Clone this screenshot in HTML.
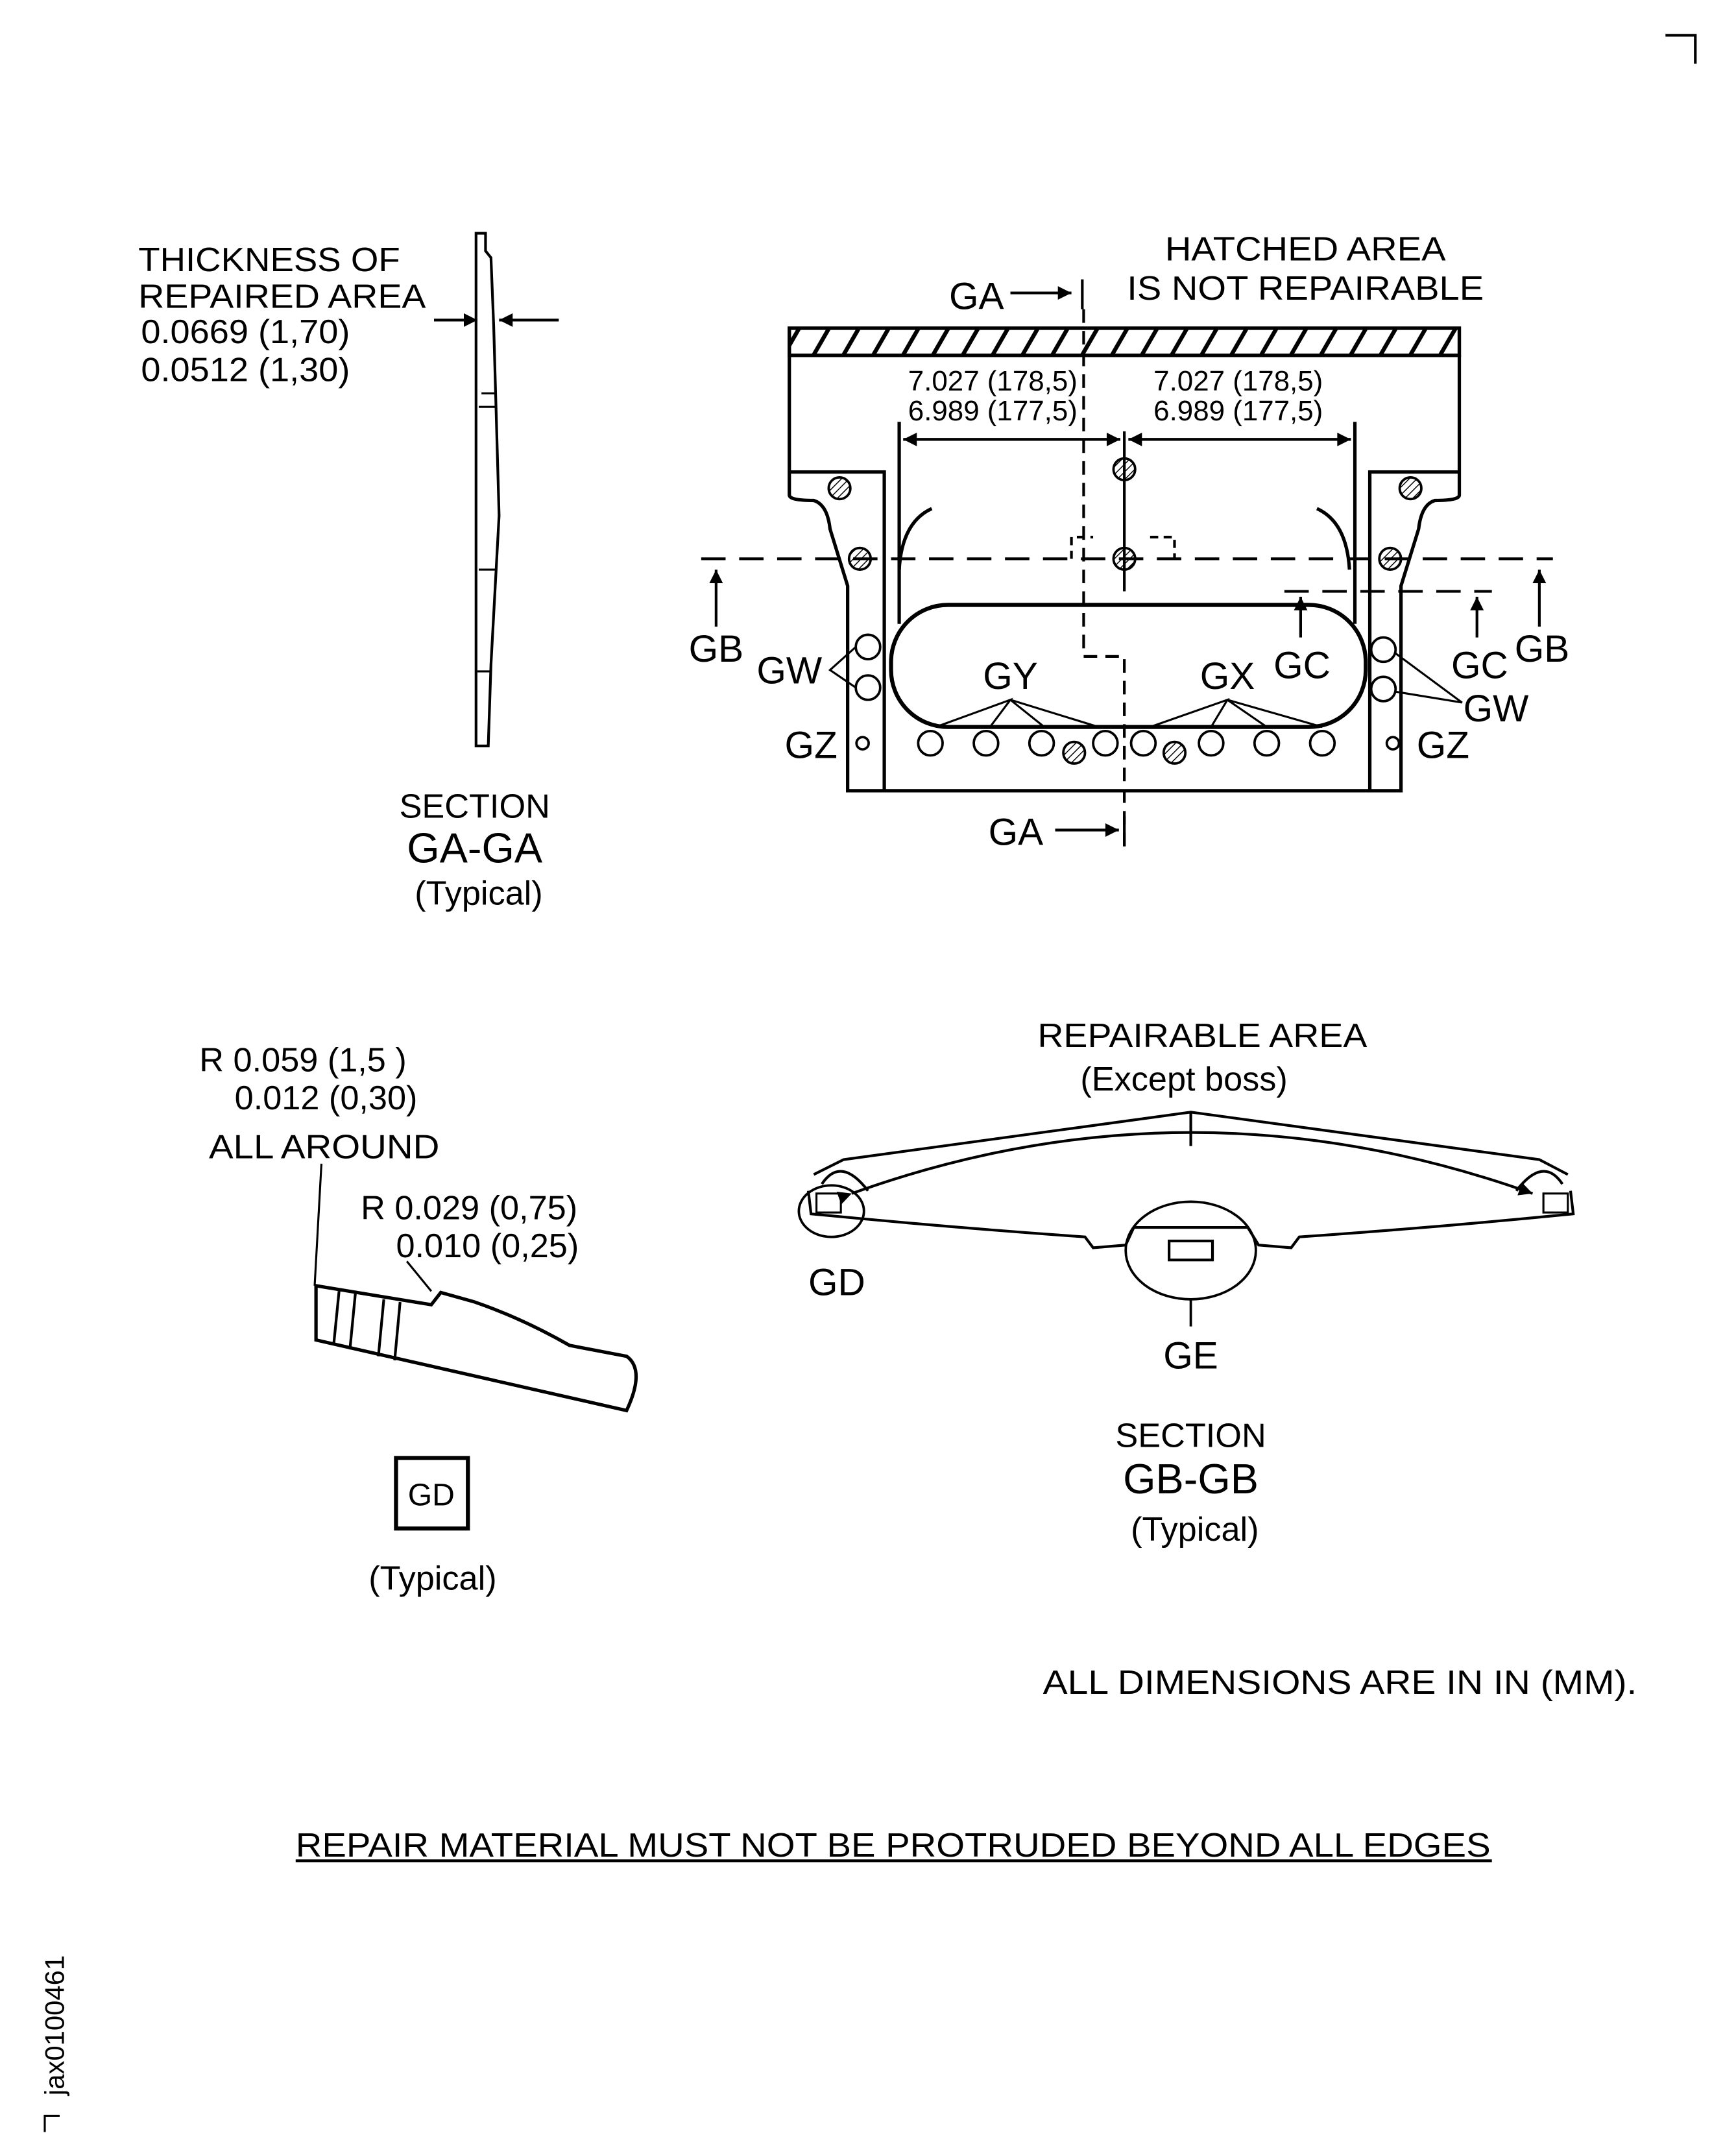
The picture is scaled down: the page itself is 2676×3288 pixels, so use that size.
<!DOCTYPE html>
<html><head><meta charset="utf-8"><style>
html,body{margin:0;padding:0;background:#fff;}
svg{display:block;}
text{font-family:"Liberation Sans",sans-serif;fill:#000;}
</style></head><body>
<svg width="2676" height="3288" viewBox="0 0 1280 1572.7" preserveAspectRatio="none" xmlns="http://www.w3.org/2000/svg">
<defs>
<pattern id="h" width="22" height="20" patternUnits="userSpaceOnUse" patternTransform="skewX(-30)"><line x1="3" y1="0" x2="3" y2="20" stroke="#000" stroke-width="3.5"/></pattern>
<pattern id="hb" width="4" height="4" patternUnits="userSpaceOnUse" patternTransform="rotate(45)"><line x1="0" y1="0" x2="0" y2="4" stroke="#000" stroke-width="1.4"/></pattern>
<marker id="ab" viewBox="0 0 10 10" refX="10" refY="5" markerWidth="14" markerHeight="10" markerUnits="userSpaceOnUse" orient="auto"><path d="M0,0L10,5L0,10Z" fill="#000"/></marker>
</defs>
<g fill="none" stroke="#000" stroke-width="2.5">
<polyline points="1228,26 1250,26 1250,47" stroke-width="2"/>
<polyline points="44,1560 33,1560 33,1572" stroke-width="1.5"/>

<rect x="582" y="242" width="494" height="20" fill="url(#h)"/>
<rect x="582" y="242" width="494" height="20"/>
<path d="M582,262 V365 Q582,369 600,369 Q610,372 612,390 L625,432 V583 H1033 V432 L1046,390 Q1048,372 1058,369 Q1076,369 1076,365 V262"/>
<polyline points="582,348 652,348 652,583"/>
<polyline points="1076,348 1010,348 1010,583"/>
<line x1="663" y1="311" x2="663" y2="460"/>
<line x1="999" y1="311" x2="999" y2="460"/>
<rect x="657" y="446" width="350" height="90" rx="42" ry="42" stroke-width="3"/>
<path d="M687,375 Q665,385 663,420"/>
<path d="M971,375 Q993,385 995,420"/>
<line x1="829" y1="318" x2="829" y2="436" stroke-width="2"/>
<line x1="826" y1="324" x2="666" y2="324" stroke-width="2" marker-end="url(#ab)"/>
<line x1="666" y1="324" x2="826" y2="324" stroke-width="2" marker-end="url(#ab)"/>
<line x1="832" y1="324" x2="996" y2="324" stroke-width="2" marker-end="url(#ab)"/>
<line x1="996" y1="324" x2="832" y2="324" stroke-width="2" marker-end="url(#ab)"/>
<polyline points="799,228 799,484 829,484 829,625" stroke-width="2" stroke-dasharray="10,6"/>
<line x1="517" y1="412" x2="1145" y2="412" stroke-width="2" stroke-dasharray="18,10"/>
<line x1="947" y1="436" x2="1100" y2="436" stroke-width="2" stroke-dasharray="18,10"/>
<polyline points="790,412 790,396 806,396" stroke-width="2" stroke-dasharray="6,4"/>
<polyline points="848,396 866,396 866,412" stroke-width="2" stroke-dasharray="6,4"/>
<g stroke-width="1.8">
<circle cx="640" cy="477" r="9"/><circle cx="640" cy="507" r="9"/>
<circle cx="1020" cy="479" r="9"/><circle cx="1020" cy="508" r="9"/>
<circle cx="636" cy="548" r="4.5"/><circle cx="1027" cy="548" r="4.5"/>
<circle cx="686" cy="548" r="9"/><circle cx="727" cy="548" r="9"/><circle cx="768" cy="548" r="9"/><circle cx="815" cy="548" r="9"/>
<circle cx="843" cy="548" r="9"/><circle cx="893" cy="548" r="9"/><circle cx="934" cy="548" r="9"/><circle cx="975" cy="548" r="9"/>
</g>
<g stroke-width="1.8" fill="url(#hb)">
<circle cx="829" cy="346" r="8"/><circle cx="829" cy="412" r="8"/>
<circle cx="619" cy="360" r="8"/><circle cx="634" cy="412" r="8"/>
<circle cx="1040" cy="360" r="8"/><circle cx="1025" cy="412" r="8"/>
<circle cx="792" cy="555" r="8"/><circle cx="866" cy="555" r="8"/>
</g>
<g stroke-width="1.5">
<polyline points="690,536 745,516 730,536"/><polyline points="770,536 745,516 810,536"/>
<polyline points="848,536 905,516 893,536"/><polyline points="934,536 905,516 975,536"/>
<polyline points="631,477 612,494 631,507"/>
<polyline points="1028,481 1078,518 1029,510"/>
</g>
<g stroke-width="2">
<line x1="528" y1="462" x2="528" y2="420" marker-end="url(#ab)"/>
<line x1="1135" y1="462" x2="1135" y2="420" marker-end="url(#ab)"/>
<line x1="959" y1="470" x2="959" y2="440" marker-end="url(#ab)"/>
<line x1="1089" y1="470" x2="1089" y2="440" marker-end="url(#ab)"/>
<line x1="745" y1="216" x2="790" y2="216" marker-end="url(#ab)"/>
<line x1="798" y1="206" x2="798" y2="228"/>
<line x1="778" y1="612" x2="825" y2="612" marker-end="url(#ab)"/>
<line x1="829" y1="602" x2="829" y2="624"/>
</g>

<path d="M351,172 H358 V185 L362,190 L364,240 L368,380 L362,490 L360,550 H351 Z" stroke-width="2"/>
<line x1="355" y1="290" x2="365" y2="290" stroke-width="1.5"/>
<line x1="353" y1="300" x2="366" y2="300" stroke-width="1.5"/>
<line x1="353" y1="420" x2="366" y2="420" stroke-width="1.5"/>
<line x1="352" y1="495" x2="361" y2="495" stroke-width="1.5"/>
<line x1="320" y1="236" x2="352" y2="236" stroke-width="2" marker-end="url(#ab)"/>
<line x1="412" y1="236" x2="368" y2="236" stroke-width="2" marker-end="url(#ab)"/>

<path d="M233,948 L318,962 L325,953 L350,960 Q385,972 420,992 L462,1000 Q476,1010 462,1040 L233,988 Z" stroke-width="2.5"/>
<line x1="250" y1="952" x2="246" y2="992" stroke-width="2"/>
<line x1="262" y1="954" x2="258" y2="995" stroke-width="2"/>
<line x1="283" y1="958" x2="279" y2="1000" stroke-width="2"/>
<line x1="295" y1="960" x2="291" y2="1003" stroke-width="2"/>
<polyline points="237,858 232,948" stroke-width="1.5"/>
<polyline points="300,930 318,952" stroke-width="1.5"/>
<rect x="292" y="1075" width="53" height="52" stroke-width="3"/>

<polyline points="600,866 622,855 878,820 1135,855 1156,866" stroke-width="2"/>
<line x1="878" y1="820" x2="878" y2="845" stroke-width="2"/>
<path d="M606,873 Q620,852 640,878" stroke-width="2"/>
<path d="M1152,873 Q1138,852 1118,878" stroke-width="2"/>
<path d="M628,880 Q878,790 1130,880" stroke-width="2" marker-start="url(#ab)" marker-end="url(#ab)"/>
<path d="M596,878 L598,895 Q700,905 800,912 L806,920 L830,918 L836,905 L920,905 L928,918 L952,920 L958,912 Q1060,905 1160,895 L1158,878" stroke-width="2"/>
<rect x="862" y="915" width="32" height="14" stroke-width="2"/>
<rect x="602" y="880" width="18" height="14" stroke-width="1.5"/>
<rect x="1138" y="880" width="18" height="14" stroke-width="1.5"/>
<ellipse cx="613" cy="893" rx="24" ry="19" stroke-width="1.8"/>
<ellipse cx="878" cy="922" rx="48" ry="36" stroke-width="1.8"/>
<line x1="878" y1="958" x2="878" y2="978" stroke-width="1.8"/>
<line x1="218" y1="1372" x2="1100" y2="1372" stroke-width="2"/>
</g>

<g font-size="25">
<text x="859" y="192" textLength="207" lengthAdjust="spacingAndGlyphs">HATCHED AREA</text>
<text x="831" y="221" textLength="263" lengthAdjust="spacingAndGlyphs">IS NOT REPAIRABLE</text>
<text x="720" y="228" text-anchor="middle" font-size="28">GA</text>
<text x="749" y="623" text-anchor="middle" font-size="28">GA</text>
<g font-size="21">
<text x="732" y="288" text-anchor="middle">7.027 (178,5)</text>
<text x="732" y="310" text-anchor="middle">6.989 (177,5)</text>
<text x="913" y="288" text-anchor="middle">7.027 (178,5)</text>
<text x="913" y="310" text-anchor="middle">6.989 (177,5)</text>
</g>
<g font-size="28">
<text x="528" y="488" text-anchor="middle">GB</text>
<text x="1137" y="488" text-anchor="middle">GB</text>
<text x="582" y="504" text-anchor="middle">GW</text>
<text x="1103" y="532" text-anchor="middle">GW</text>
<text x="745" y="508" text-anchor="middle">GY</text>
<text x="905" y="508" text-anchor="middle">GX</text>
<text x="960" y="500" text-anchor="middle">GC</text>
<text x="1091" y="500" text-anchor="middle">GC</text>
<text x="598" y="559" text-anchor="middle">GZ</text>
<text x="1064" y="559" text-anchor="middle">GZ</text>
</g>
<text x="102" y="200" textLength="193" lengthAdjust="spacingAndGlyphs">THICKNESS OF</text>
<text x="102" y="227" textLength="212" lengthAdjust="spacingAndGlyphs">REPAIRED AREA</text>
<text x="104" y="253" textLength="154" lengthAdjust="spacingAndGlyphs">0.0669 (1,70)</text>
<text x="104" y="281" textLength="154" lengthAdjust="spacingAndGlyphs">0.0512 (1,30)</text>
<text x="350" y="603" text-anchor="middle">SECTION</text>
<text x="350" y="636" text-anchor="middle" font-size="31">GA-GA</text>
<text x="353" y="667" text-anchor="middle">(Typical)</text>
<text x="147" y="790">R 0.059 (1,5 )</text>
<text x="173" y="818">0.012 (0,30)</text>
<text x="154" y="854" textLength="170" lengthAdjust="spacingAndGlyphs">ALL AROUND</text>
<text x="266" y="899">R 0.029 (0,75)</text>
<text x="292" y="927">0.010 (0,25)</text>
<text x="318" y="1110" text-anchor="middle" font-size="23">GD</text>
<text x="319" y="1172" text-anchor="middle">(Typical)</text>
<text x="765" y="772" textLength="243" lengthAdjust="spacingAndGlyphs">REPAIRABLE AREA</text>
<text x="873" y="804" text-anchor="middle">(Except boss)</text>
<text x="617" y="955" text-anchor="middle" font-size="28">GD</text>
<text x="878" y="1009" text-anchor="middle" font-size="28">GE</text>
<text x="878" y="1067" text-anchor="middle">SECTION</text>
<text x="878" y="1101" text-anchor="middle" font-size="31">GB-GB</text>
<text x="881" y="1136" text-anchor="middle">(Typical)</text>
<text x="769" y="1249" textLength="438" lengthAdjust="spacingAndGlyphs">ALL DIMENSIONS ARE IN IN  (MM).</text>
<text x="218" y="1369" textLength="881" lengthAdjust="spacingAndGlyphs">REPAIR MATERIAL MUST NOT BE PROTRUDED BEYOND ALL EDGES</text>
<text x="0" y="0" font-size="20" transform="translate(47,1545) rotate(-90)">jax0100461</text>
</g>
</svg>
</body></html>
